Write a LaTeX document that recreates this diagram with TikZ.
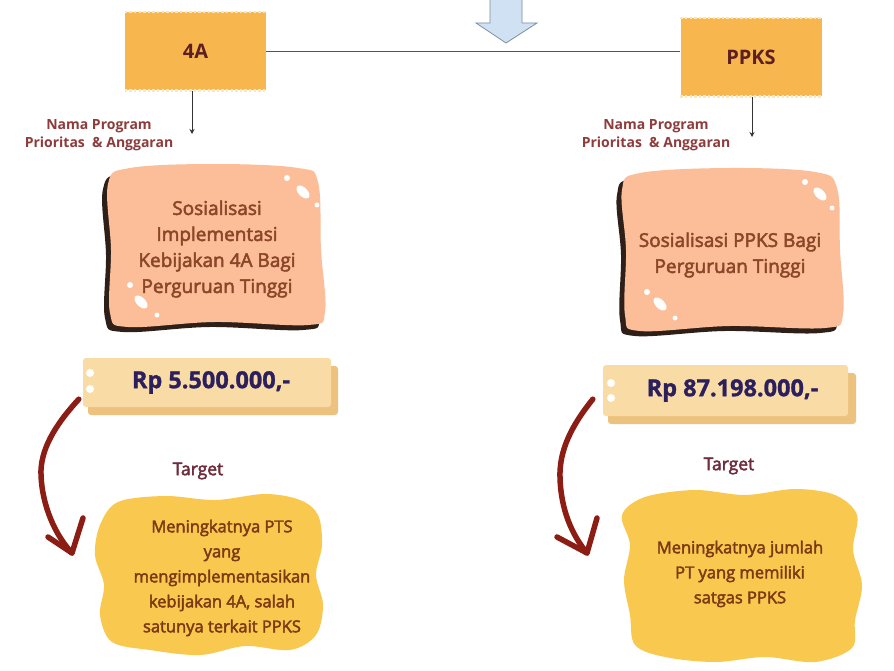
\documentclass[tikz,border=0pt]{standalone}
\usepackage{fontspec}
\setmainfont{Open Sans}
\newfontfamily\semifont{Open Sans}[FakeBold=2.6]
\newfontfamily\heavyfont{Open Sans}[BoldFeatures={FakeBold=1.2}]
\usetikzlibrary{arrows.meta}
\definecolor{boxorange}{HTML}{F8B74E}
\definecolor{rimcream}{HTML}{FCE7BC}
\definecolor{peach}{HTML}{FBBE98}
\definecolor{peachshade}{HTML}{2E2019}
\definecolor{tanfront}{HTML}{F9DBA6}
\definecolor{tanback}{HTML}{EDC27E}
\definecolor{goldfill}{HTML}{F9C84E}
\definecolor{curvered}{HTML}{8C1D14}
\definecolor{maroonink}{HTML}{5C1F22}
\definecolor{noteink}{HTML}{8E3B3B}
\definecolor{brownink}{HTML}{8B4528}
\definecolor{navyink}{HTML}{2B1F5E}
\definecolor{targetink}{HTML}{6E2C3C}
\definecolor{goldink}{HTML}{7B3A14}
\definecolor{arrowblue}{HTML}{CFE1F3}
\definecolor{arrowedge}{HTML}{7D8DA3}
\definecolor{linegray}{HTML}{555555}
\begin{document}
\begin{tikzpicture}[x=1pt,y=-1pt,
  topbox/.style={fill=boxorange, minimum width=141pt, minimum height=78pt, inner sep=0pt,
    text=maroonink, font=\fontsize{20}{22}\selectfont\bfseries},
  rimline/.style={rimcream, line width=2.4pt, dash pattern=on 2.4pt off 2.2pt},
  linkline/.style={linegray, line width=0.9pt},
  downarrow/.style={draw=black!80, line width=1pt, -{Stealth[length=5pt,width=5pt]}},
  topnote/.style={align=center, text=noteink, font=\fontsize{14}{18}\selectfont\bfseries},
  peachtext/.style={align=center, text=brownink, font=\fontsize{19}{26}\semifont},
  money/.style={fill=tanfront, rounded corners=3pt, inner sep=0pt, text=navyink,
    font=\fontsize{23.5}{25}\heavyfont\bfseries},
  targetlbl/.style={text=targetink, font=\fontsize{17.5}{20}\semifont},
  goaltext/.style={align=center, text=goldink, font=\fontsize{16.5}{25}\semifont},
  curvearrow/.style={curvered, line width=5.5pt, line cap=round, line join=round},
  shine/.style={fill=white}
]
\useasboundingbox (0,0) rectangle (894,671);
\fill[white] (0,0) rectangle (894,671);

% ---- top: incoming block arrow and the two programme boxes
\draw[fill=arrowblue, draw=arrowedge, line width=0.8pt]
  (490,-1) -- (522,-1) -- (522,23) -- (537,23) -- (506,43) -- (476,23) -- (490,23) -- cycle;

\node[topbox] (t4a) at (195.5,51.5) {4A};
\node[topbox] (ppks) at (751,57.5) {PPKS};
\foreach \b in {t4a,ppks}{
  \draw[rimline] (\b.north west) -- (\b.north east);
  \draw[rimline] (\b.south west) -- (\b.south east);
}
\draw[linkline] (t4a.east) -- (t4a.east -| ppks.west);

\coordinate (n4a) at (192,134);
\coordinate (nppks) at (752,137);
\draw[downarrow] (t4a.south -| n4a) -- (n4a);
\draw[downarrow] (ppks.south -| nppks) -- (nppks);

\node[topnote] (note4a) at (99,135) {Nama Program\\Prioritas\ \ \& Anggaran};
\node[topnote] (noteppks) at (656,135) {Nama Program\\Prioritas\ \ \& Anggaran};

% ---- peach programme cards with dark drop shadow
\fill[peachshade, shift={(-5,5)}] plot[smooth cycle, tension=0.6] coordinates
  {(130,168) (215,164) (298,168) (318,182) (321,250) (325,312) (308,325) (215,322) (128,327) (110,313) (111,250) (108,184)};
\fill[peach] plot[smooth cycle, tension=0.6] coordinates
  {(130,168) (215,164) (298,168) (318,182) (321,250) (325,312) (308,325) (215,322) (128,327) (110,313) (111,250) (108,184)};
\fill[peachshade, shift={(-5,5)}] plot[smooth cycle, tension=0.6] coordinates
  {(640,173) (730,168) (815,172) (837,188) (840,250) (843,314) (825,328) (730,326) (640,331) (625,315) (626,250) (622,190)};
\fill[peach] plot[smooth cycle, tension=0.6] coordinates
  {(640,173) (730,168) (815,172) (837,188) (840,250) (843,314) (825,328) (730,326) (640,331) (625,315) (626,250) (622,190)};

% highlights on the cards
\fill[shine] (287,178) circle (3);
\fill[shine, rotate around={-45:(303,192)}] (303,192) ellipse (8 and 4.5);
\fill[shine] (317,205) circle (2.5);
\fill[shine] (130,285) circle (3);
\fill[shine, rotate around={-45:(141,302)}] (141,302) ellipse (8 and 4.5);
\fill[shine] (157,315) circle (2.5);
\fill[shine] (805,182) circle (3);
\fill[shine, rotate around={-45:(820,194)}] (820,194) ellipse (8 and 4.5);
\fill[shine] (832,208) circle (2.5);
\fill[shine] (647,292) circle (3);
\fill[shine, rotate around={-45:(660,304)}] (660,304) ellipse (8 and 4.5);
\fill[shine] (675,318) circle (2.5);

\node[peachtext] (prog4a) at (217,249) {Sosialisasi\\Implementasi\\Kebijakan 4A Bagi\\Perguruan Tinggi};
\node[peachtext] (progppks) at (730,255) {Sosialisasi PPKS Bagi\\Perguruan Tinggi};

% ---- budget tags
\fill[tanback, rounded corners=3pt] (88,366) rectangle (338,415);
\node[money, minimum width=248pt, minimum height=49pt] (rp1) at (207,382.5) {\hspace{8pt}Rp 5.500.000,-};
\fill[shine] (90,373) circle (4);
\fill[shine] (90,389) circle (4);

\fill[tanback, rounded corners=3pt] (608,373) rectangle (856,424);
\node[money, minimum width=245pt, minimum height=51pt] (rp2) at (725.5,390.5) {\hspace{14pt}Rp 87.198.000,-};
\fill[shine] (611,383) circle (4);
\fill[shine] (611,398) circle (4);

% ---- targets
\node[targetlbl] (tgt4a) at (198,471) {Target};
\node[targetlbl] (tgtppks) at (729,466) {Target};

\fill[goldfill] plot[smooth cycle, tension=0.55] coordinates
  {(118,502) (165,496) (215,500) (265,494) (300,500) (318,515) (322,545) (316,575) (323,605) (316,635) (290,650) (245,646) (200,655) (150,650) (112,642) (100,615) (104,585) (95,555) (100,525)};
\fill[goldfill] plot[smooth cycle, tension=0.55] coordinates
  {(645,497) (695,490) (745,495) (795,489) (835,495) (857,515) (853,550) (862,585) (855,620) (852,648) (815,662) (765,657) (715,662) (665,657) (635,645) (630,615) (624,580) (630,545) (622,515)};

\node[goaltext] (goal4a) at (222,578) {Meningkatnya PTS\\yang\\mengimplementasikan\\kebijakan 4A, salah\\satunya terkait PPKS};
\node[goaltext] (goalppks) at (740,574) {Meningkatnya jumlah\\PT yang memiliki\\satgas PPKS};

% ---- curved arrows from the budget tags to the targets
\coordinate (s4a) at ([xshift=-4pt,yshift=8pt]rp1.south west);
\coordinate (e4a) at (72,553);
\draw[curvearrow] (s4a) .. controls (55,425) and (40,450) .. (41,475)
  .. controls (42,505) and (55,535) .. (e4a);
\draw[curvearrow] (48,537) -- (e4a) -- (83,518);

\coordinate (sppks) at ([xshift=-10pt,yshift=17pt]rp2.south west);
\coordinate (eppks) at (587,553);
\draw[curvearrow] (sppks) .. controls (572,425) and (559,450) .. (560,478)
  .. controls (561,510) and (572,535) .. (eppks);
\draw[curvearrow] (557,537) -- (eppks) -- (597,518);
\end{tikzpicture}
\end{document}
